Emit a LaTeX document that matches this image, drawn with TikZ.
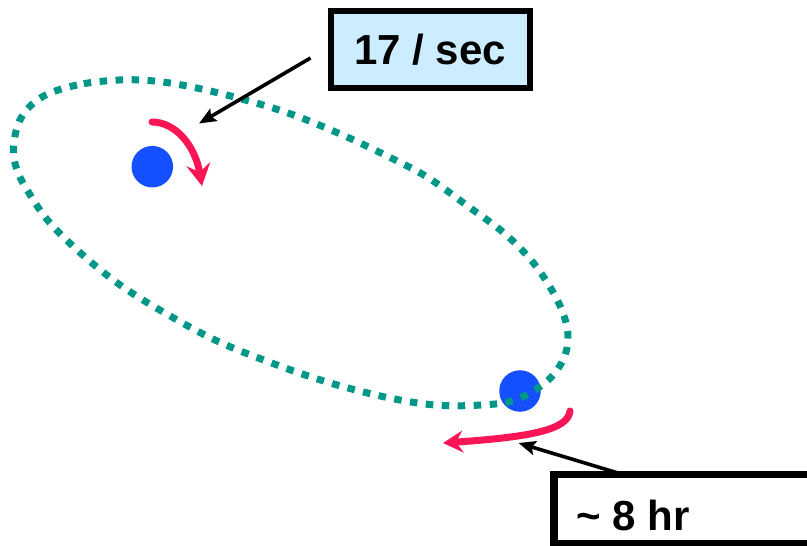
\documentclass[tikz,border=0pt]{standalone}
\usepackage{fontspec}
\setmainfont{Liberation Sans}
\usetikzlibrary{arrows.meta,calc}
\definecolor{orbit}{RGB}{0,150,136}
\definecolor{star}{RGB}{20,80,255}
\definecolor{spin}{RGB}{250,22,85}
\definecolor{boxfill}{RGB}{204,236,255}
\begin{document}
\begin{tikzpicture}[x=1pt,y=-1pt,
  stardot/.style={circle,fill=star,minimum size=41.5pt,inner sep=0pt},
  orbitline/.style={draw=orbit,line width=7pt,dash pattern=on 7.5pt off 8.5pt},
  spinarrow/.style={draw=spin,line width=7pt,line cap=round,-{Stealth[length=22pt,width=24pt,inset=8pt]}},
  pointer/.style={draw=black,line width=3.6pt,-{Stealth[length=17pt,width=14pt,inset=3pt]}},
  labelbox/.style={draw=black,outer sep=0pt,inner sep=0pt},
  labeltext/.style={font=\fontsize{42}{50}\selectfont\bfseries,inner sep=0pt}]
\useasboundingbox (0,0) rectangle (807,546);
\clip (0,0) rectangle (807,546);
% stars
\node[stardot] (dotA) at (152.3,166.7) {};
\node[stardot] (dotB) at (520,391) {};
% orbit
\draw[orbitline] plot[smooth cycle, tension=0.6] coordinates {
 (119,80) (77,85) (42,97) (21,118) (13.5,147) (17,170) (29,193) (50,223)
 (85,257) (123,287) (165,313) (215,340) (269,362) (327,382) (385,397)
 (435,405) (481,405) (515,400) (546,382) (563,360) (568,337) (563,313)
 (550,287) (531,260) (504,233) (469,207) (427,177) (385,155) (338,133)
 (288,113) (238,98) (192,87) (154,81)};
% spin arrows
\coordinate (spinAs) at (152,122);
\coordinate (spinAe) at (202,186);
\coordinate (spinBs) at (570,411);
\coordinate (spinBe) at (443,443);
\draw[spinarrow] (spinAs) .. controls (175,122) and (195,145) .. (spinAe);
\draw[spinarrow,-{Stealth[length=20pt,width=22pt,inset=7pt]}] (spinBs) .. controls (568,430) and (530,437) .. (spinBe);
% labels
\node[labelbox, fill=boxfill, line width=6pt, minimum width=199pt, minimum height=77pt, labeltext, text height=30pt, text depth=0pt] (rate) at (430,49) {17 / sec};
\coordinate (tipA) at (199,123.5);
\coordinate (tipB) at (518.5,443);
\draw[pointer] ($(rate.west)+(-20,9)$) -- (tipA);
\draw[pointer] (623,474.5) -- (tipB);
\node[labelbox, fill=white, line width=7.5pt, minimum width=280pt, minimum height=69pt, anchor=north west] (period) at (554,474.5) {};
\node[labeltext, anchor=base west] (periodtext) at (576.5,530) {\textasciitilde{} 8 hr};
\end{tikzpicture}
\end{document}
